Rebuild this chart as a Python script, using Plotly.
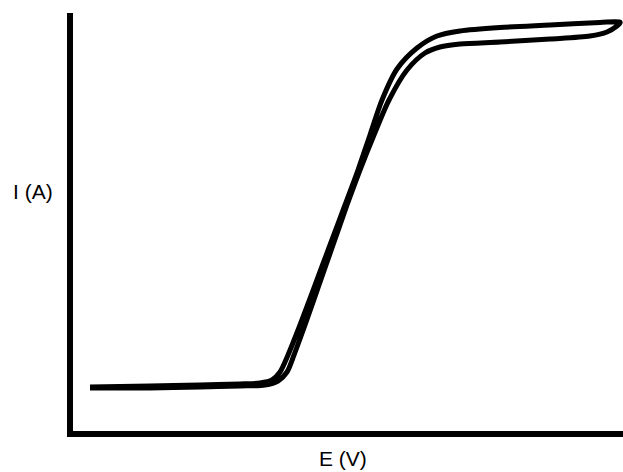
import plotly.graph_objects as go

# Forward/outer branch (E, I) in arbitrary units
E_upper = [90, 150, 200, 240, 260, 272, 280, 288, 300, 315, 330, 345, 358, 370, 382, 397, 417, 437, 460, 500, 550, 600, 620]
I_upper = [85, 86, 87, 88, 89, 92, 100, 117, 147, 187, 227, 267, 302, 337, 372, 403, 424, 436, 441, 444.5, 447, 449.5, 450]

# Return/inner branch
E_lower = [620, 617, 607, 590, 550, 500, 460, 440, 425, 407, 389, 374, 360, 347, 333, 319, 305, 294, 287, 278, 265, 240, 200, 150, 90]
I_lower = [449, 446, 440, 436, 433, 430, 428, 425, 419, 402, 372, 337, 302, 267, 227, 187, 147, 117, 100, 91, 87, 86, 85, 84, 84]

E_all = E_upper + E_lower
I_all = I_upper + I_lower

W, H = 623, 472
L, R, T, B = 73, 0, 13, 41

fig = go.Figure()
fig.add_trace(go.Scatter(
    x=E_all, y=I_all, mode="lines",
    line=dict(color="black", width=5, shape="spline", smoothing=0.8),
    hoverinfo="skip", showlegend=False,
))

axis_common = dict(showline=True, linecolor="black", linewidth=6, showgrid=False,
                   zeroline=False, showticklabels=False, ticks="")
fig.update_xaxes(range=[73, 623], **axis_common)
fig.update_yaxes(range=[41, 459], **axis_common)

pw, ph = W - L - R, H - T - B
font = dict(family="Liberation Sans, Arial, sans-serif", size=21, color="black")
fig.add_annotation(text="I (A)", xref="paper", yref="paper",
                   x=(33 - L) / pw, y=(H - B - 191) / ph,
                   showarrow=False, font=font, xanchor="center", yanchor="middle")
fig.add_annotation(text="E (V)", xref="paper", yref="paper",
                   x=(343 - L) / pw, y=(H - B - 458) / ph,
                   showarrow=False, font=font, xanchor="center", yanchor="middle")

fig.update_layout(width=W, height=H, margin=dict(l=L, r=R, t=T, b=B),
                  plot_bgcolor="white", paper_bgcolor="white")
fig.write_html("out.html", config={"displayModeBar": False, "staticPlot": True})

# remove the browser's default body margin so the figure sits at the window origin
with open("out.html", encoding="utf-8") as f:
    html = f.read()
html = html.replace("<head>", "<head><style>html,body{margin:0;padding:0;overflow:hidden}</style>", 1)
with open("out.html", "w", encoding="utf-8") as f:
    f.write(html)
